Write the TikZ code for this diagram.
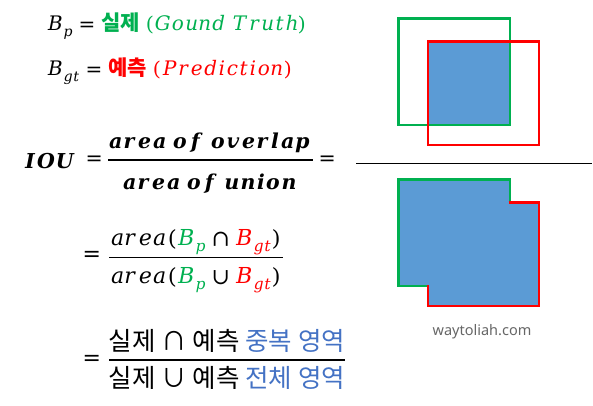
\documentclass[tikz,border=0pt]{standalone}
\usepackage{fontspec}
\usepackage{unicode-math}
\setmathfont{DejaVu Math TeX Gyre}
\newfontfamily\kr{Noto Sans CJK KR}
\newfontfamily\wm{Noto Sans}
\definecolor{gtgreen}{HTML}{00B050}
\definecolor{prred}{HTML}{FF0000}
\definecolor{fillblue}{HTML}{5B9BD5}
\definecolor{txtblue}{HTML}{4472C4}
\definecolor{wmgray}{HTML}{666666}
\tikzset{
  gtline/.style={draw=gtgreen,line width=2.7pt,line join=miter},
  prline/.style={draw=prred,line width=2.7pt,line join=miter},
  ovfill/.style={fill=fillblue,draw=none},
  txt/.style={inner sep=0pt,outer sep=0pt},
  fbar/.style={draw=black,line width=1.6pt},
  deftxt/.style={txt,anchor=base west,font=\fontsize{20}{22}\selectfont},
  f1txt/.style={txt,font=\fontsize{20.5}{24}\selectfont},
  f2txt/.style={txt,font=\fontsize{22}{24}\selectfont},
  f3txt/.style={txt,anchor=base,font=\kr\fontsize{25.5}{28}\selectfont},
}
\newcommand{\krb}[1]{{\kr\bfseries\fontsize{21}{22}\selectfont #1}}
\begin{document}
\begin{tikzpicture}[x=1pt,y=-1pt]
\useasboundingbox (0,0) rectangle (593,406);
% definitions
\node[deftxt] (l1) at (46,30.5)
  {$B_p=$ {\color{gtgreen}\krb{실제} $(Gound\ Truth)$}};
\node[deftxt] (l2) at (46,76)
  {$B_{gt}=$ {\color{prred}\krb{예측} $(Prediction)$}};
% formula 1
\node[f1txt] (iou) at (50,161) {$\symbfit{IOU}$};
\node[f1txt] (eq1) at (95,160) {$=$};
\node[f1txt,anchor=base] (n1) at (210,149) {$\symbfit{area\ of\ overlap}$};
\node[f1txt,anchor=base] (d1) at (210,189) {$\symbfit{area\ of\ union}$};
\coordinate (b1l) at (108,160);
\coordinate (b1r) at (313,160);
\draw[fbar] (b1l) -- (b1r);
\node[f1txt] (eq1b) at (328,160) {$=$};
% formula 2
\node[f2txt] (eq2) at (92,256) {$=$};
\node[f2txt,anchor=base] (n2) at (196,245)
  {$area({\color{gtgreen}B_p}\cap{\color{prred}B_{gt}})$};
\node[f2txt,anchor=base] (d2) at (196,283)
  {$area({\color{gtgreen}B_p}\cup{\color{prred}B_{gt}})$};
\coordinate (b2l) at (109,257.5);
\coordinate (b2r) at (283,257.5);
\draw[draw=black,line width=1.2pt] (b2l) -- (b2r);
% formula 3
\node[f2txt] (eq3) at (92,360) {$=$};
\node[f3txt] (n3) at (227,350)
  {실제 ∩ 예측 {\color{txtblue}중복 영역}};
\node[f3txt] (d3) at (227,387)
  {실제 ∪ 예측 {\color{txtblue}전체 영역}};
\coordinate (b3l) at (109,360);
\coordinate (b3r) at (345,360);
\draw[draw=black,line width=1.2pt] (b3l) -- (b3r);
% right: intersection
\fill[ovfill] (428,41.5) rectangle (510,125);
\draw[gtline] (398.5,18.5) rectangle (510,125);
\draw[prline] (428,41.5) rectangle (539,145);
\coordinate (hl) at (356,163);
\coordinate (hr) at (592,163);
\draw[black,line width=1pt] (hl) -- (hr);
% right: union
\fill[ovfill] (398.5,179.5) -- (510,179.5) -- (510,202.5) -- (539,202.5) -- (539,306) -- (428,306) -- (428,286) -- (398.5,286) -- cycle;
\draw[gtline] (428,286) -- (398.5,286) -- (398.5,179.5) -- (510,179.5) -- (510,202.5);
\draw[prline] (508.7,202.5) -- (539,202.5) -- (539,306) -- (428,306) -- (428,284.7);
\node[txt,font=\wm\fontsize{14.5}{16}\selectfont,text=wmgray] (wm) at (482,332) {waytoliah.com};
\end{tikzpicture}
\end{document}
